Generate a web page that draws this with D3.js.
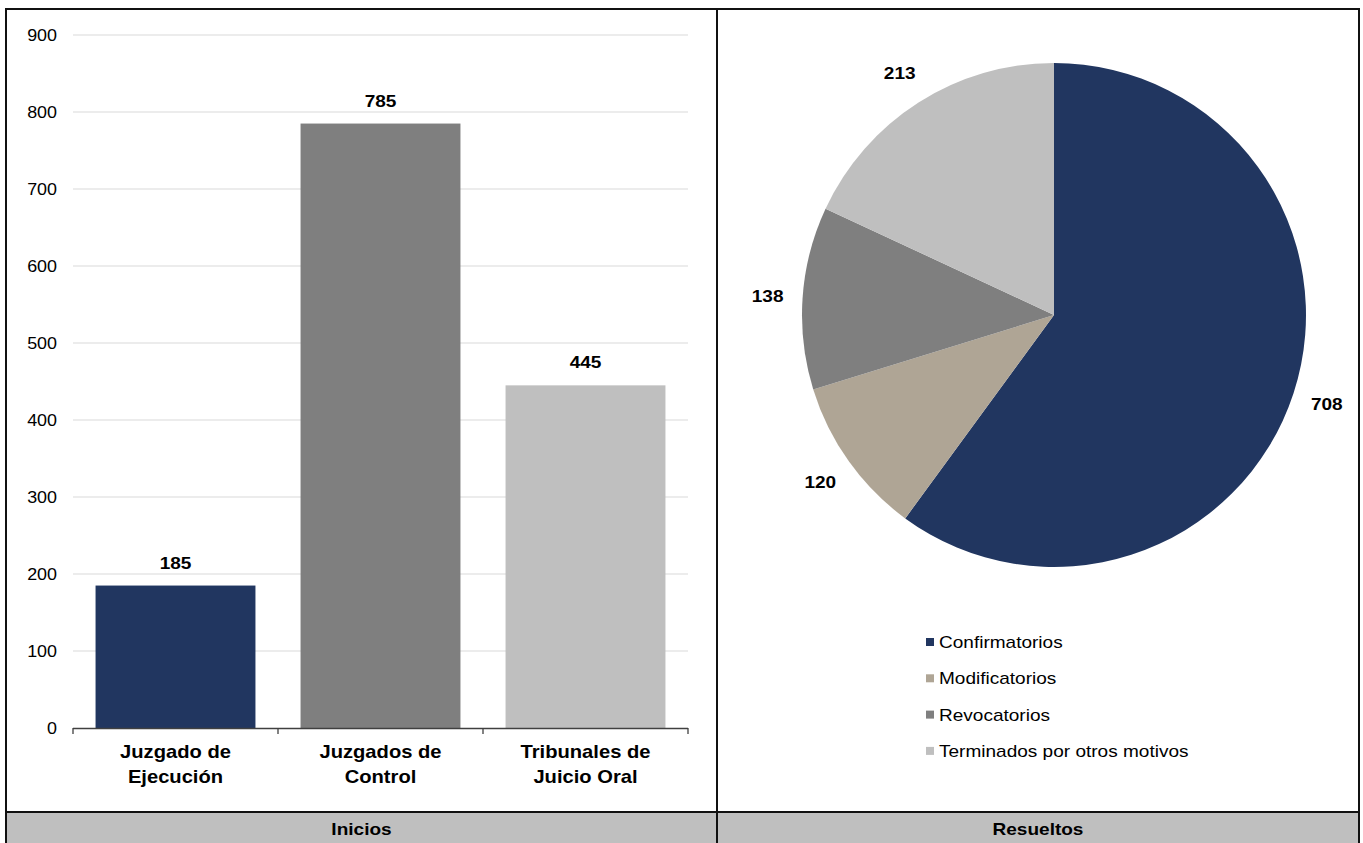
<!DOCTYPE html>
<html>
<head>
<meta charset="utf-8">
<script src="https://cdn.jsdelivr.net/npm/d3@7"></script>
<style>
  html, body { margin: 0; padding: 0; background: #ffffff; }
  svg { display: block; font-family: "Liberation Sans", Arial, sans-serif; }
</style>
</head>
<body>
<svg id="chart" width="1363" height="843"></svg>
<script>
// Inicios por órgano jurisdiccional
const barCategories = [["Juzgado de", "Ejecución"], ["Juzgados de", "Control"], ["Tribunales de", "Juicio Oral"]];
const barValues = [185, 785, 445];
const barColors = ["#213660", "#7f7f7f", "#bfbfbf"];
const yTicks = [0, 100, 200, 300, 400, 500, 600, 700, 800, 900];

// Resueltos por tipo de resolución
const pieLabels = ["Confirmatorios", "Modificatorios", "Revocatorios", "Terminados por otros motivos"];
const pieValues = [708, 120, 138, 213];
const pieColors = ["#213660", "#afa595", "#7f7f7f", "#bfbfbf"];

const panelTitles = ["Inicios", "Resueltos"];

const svg = d3.select("#chart");
const W = 1363, H = 843;
const frameLeft = 6, frameRight = 1359, frameTop = 9, divider = 717, stripTop = 812;
const sx = 1.12; // horizontal text stretch

function txt(g, x, y, s, size, weight, anchor) {
  return g.append("text")
    .attr("transform", `translate(${x},${y}) scale(${sx},1)`)
    .attr("text-anchor", anchor || "middle")
    .attr("font-size", size)
    .attr("font-weight", weight || "normal")
    .attr("fill", "#000")
    .text(s);
}

// ---- Bar panel ----
const x = d3.scaleBand()
  .domain(d3.range(barValues.length))
  .range([73, 688])
  .paddingInner(0.22)
  .paddingOuter(0.11);
const y = d3.scaleLinear().domain([0, 900]).range([728, 35]);

const bars = svg.append("g");

bars.selectAll("line.grid")
  .data(yTicks.filter(d => d > 0))
  .join("line")
  .attr("x1", 73).attr("x2", 688)
  .attr("y1", d => y(d)).attr("y2", d => y(d))
  .attr("stroke", "#d9d9d9").attr("stroke-width", 1.2);

yTicks.forEach(t => txt(bars, 57, y(t) + 5.5, t, 16, "normal", "end"));

bars.selectAll("rect.bar")
  .data(barValues)
  .join("rect")
  .attr("x", (d, i) => x(i))
  .attr("width", x.bandwidth())
  .attr("y", d => y(d))
  .attr("height", d => y(0) - y(d))
  .attr("fill", (d, i) => barColors[i]);

barValues.forEach((v, i) => txt(bars, x(i) + x.bandwidth() / 2, y(v) - 17, v, 17, "bold"));

// category axis
bars.append("line")
  .attr("x1", 73).attr("x2", 688).attr("y1", y(0) + 0.5).attr("y2", y(0) + 0.5)
  .attr("stroke", "#404040").attr("stroke-width", 1.3);
const tickXs = d3.range(barValues.length + 1).map(i => 73 + i * x.step());
bars.selectAll("line.tick")
  .data(tickXs)
  .join("line")
  .attr("x1", d => d).attr("x2", d => d)
  .attr("y1", y(0)).attr("y2", y(0) + 6)
  .attr("stroke", "#404040").attr("stroke-width", 1.3);

barCategories.forEach((lines, i) => {
  const cx = x(i) + x.bandwidth() / 2;
  lines.forEach((l, k) => txt(bars, cx, 758 + k * 25, l, 18, "bold"));
});

// ---- Pie panel ----
const pcx = 1054, pcy = 315, r = 252;
const pie = d3.pie().sort(null).value(d => d)(pieValues);
const arc = d3.arc().innerRadius(0).outerRadius(r);
const labelArc = d3.arc().innerRadius(287).outerRadius(287);
const pg = svg.append("g").attr("transform", `translate(${pcx},${pcy})`);
pg.selectAll("path")
  .data(pie)
  .join("path")
  .attr("d", arc)
  .attr("fill", (d, i) => pieColors[i]);
pie.forEach(d => {
  const [lx, ly] = labelArc.centroid(d);
  txt(pg, lx, ly + 6, d.value, 17, "bold");
});

// legend
const lg = svg.append("g");
pieLabels.forEach((lab, i) => {
  const yy = 642 + i * 36.3;
  lg.append("rect").attr("x", 926).attr("y", yy - 4).attr("width", 8).attr("height", 8).attr("fill", pieColors[i]);
  txt(lg, 939, yy + 6, lab, 17, "normal", "start");
});

// ---- Frame and footer strip ----
svg.append("rect")
  .attr("x", frameLeft).attr("y", stripTop).attr("width", frameRight - frameLeft).attr("height", H - stripTop + 5)
  .attr("fill", "#bfbfbf");
svg.append("rect")
  .attr("x", frameLeft).attr("y", frameTop).attr("width", frameRight - frameLeft).attr("height", H - frameTop + 10)
  .attr("fill", "none").attr("stroke", "#111").attr("stroke-width", 2);
svg.append("line")
  .attr("x1", frameLeft).attr("x2", frameRight).attr("y1", stripTop).attr("y2", stripTop)
  .attr("stroke", "#111").attr("stroke-width", 2);
svg.append("line")
  .attr("x1", divider).attr("x2", divider).attr("y1", frameTop).attr("y2", H)
  .attr("stroke", "#111").attr("stroke-width", 2);

txt(svg, (frameLeft + divider) / 2, 835, panelTitles[0], 17, "bold");
txt(svg, (divider + frameRight) / 2, 835, panelTitles[1], 17, "bold");
</script>
</body>
</html>
